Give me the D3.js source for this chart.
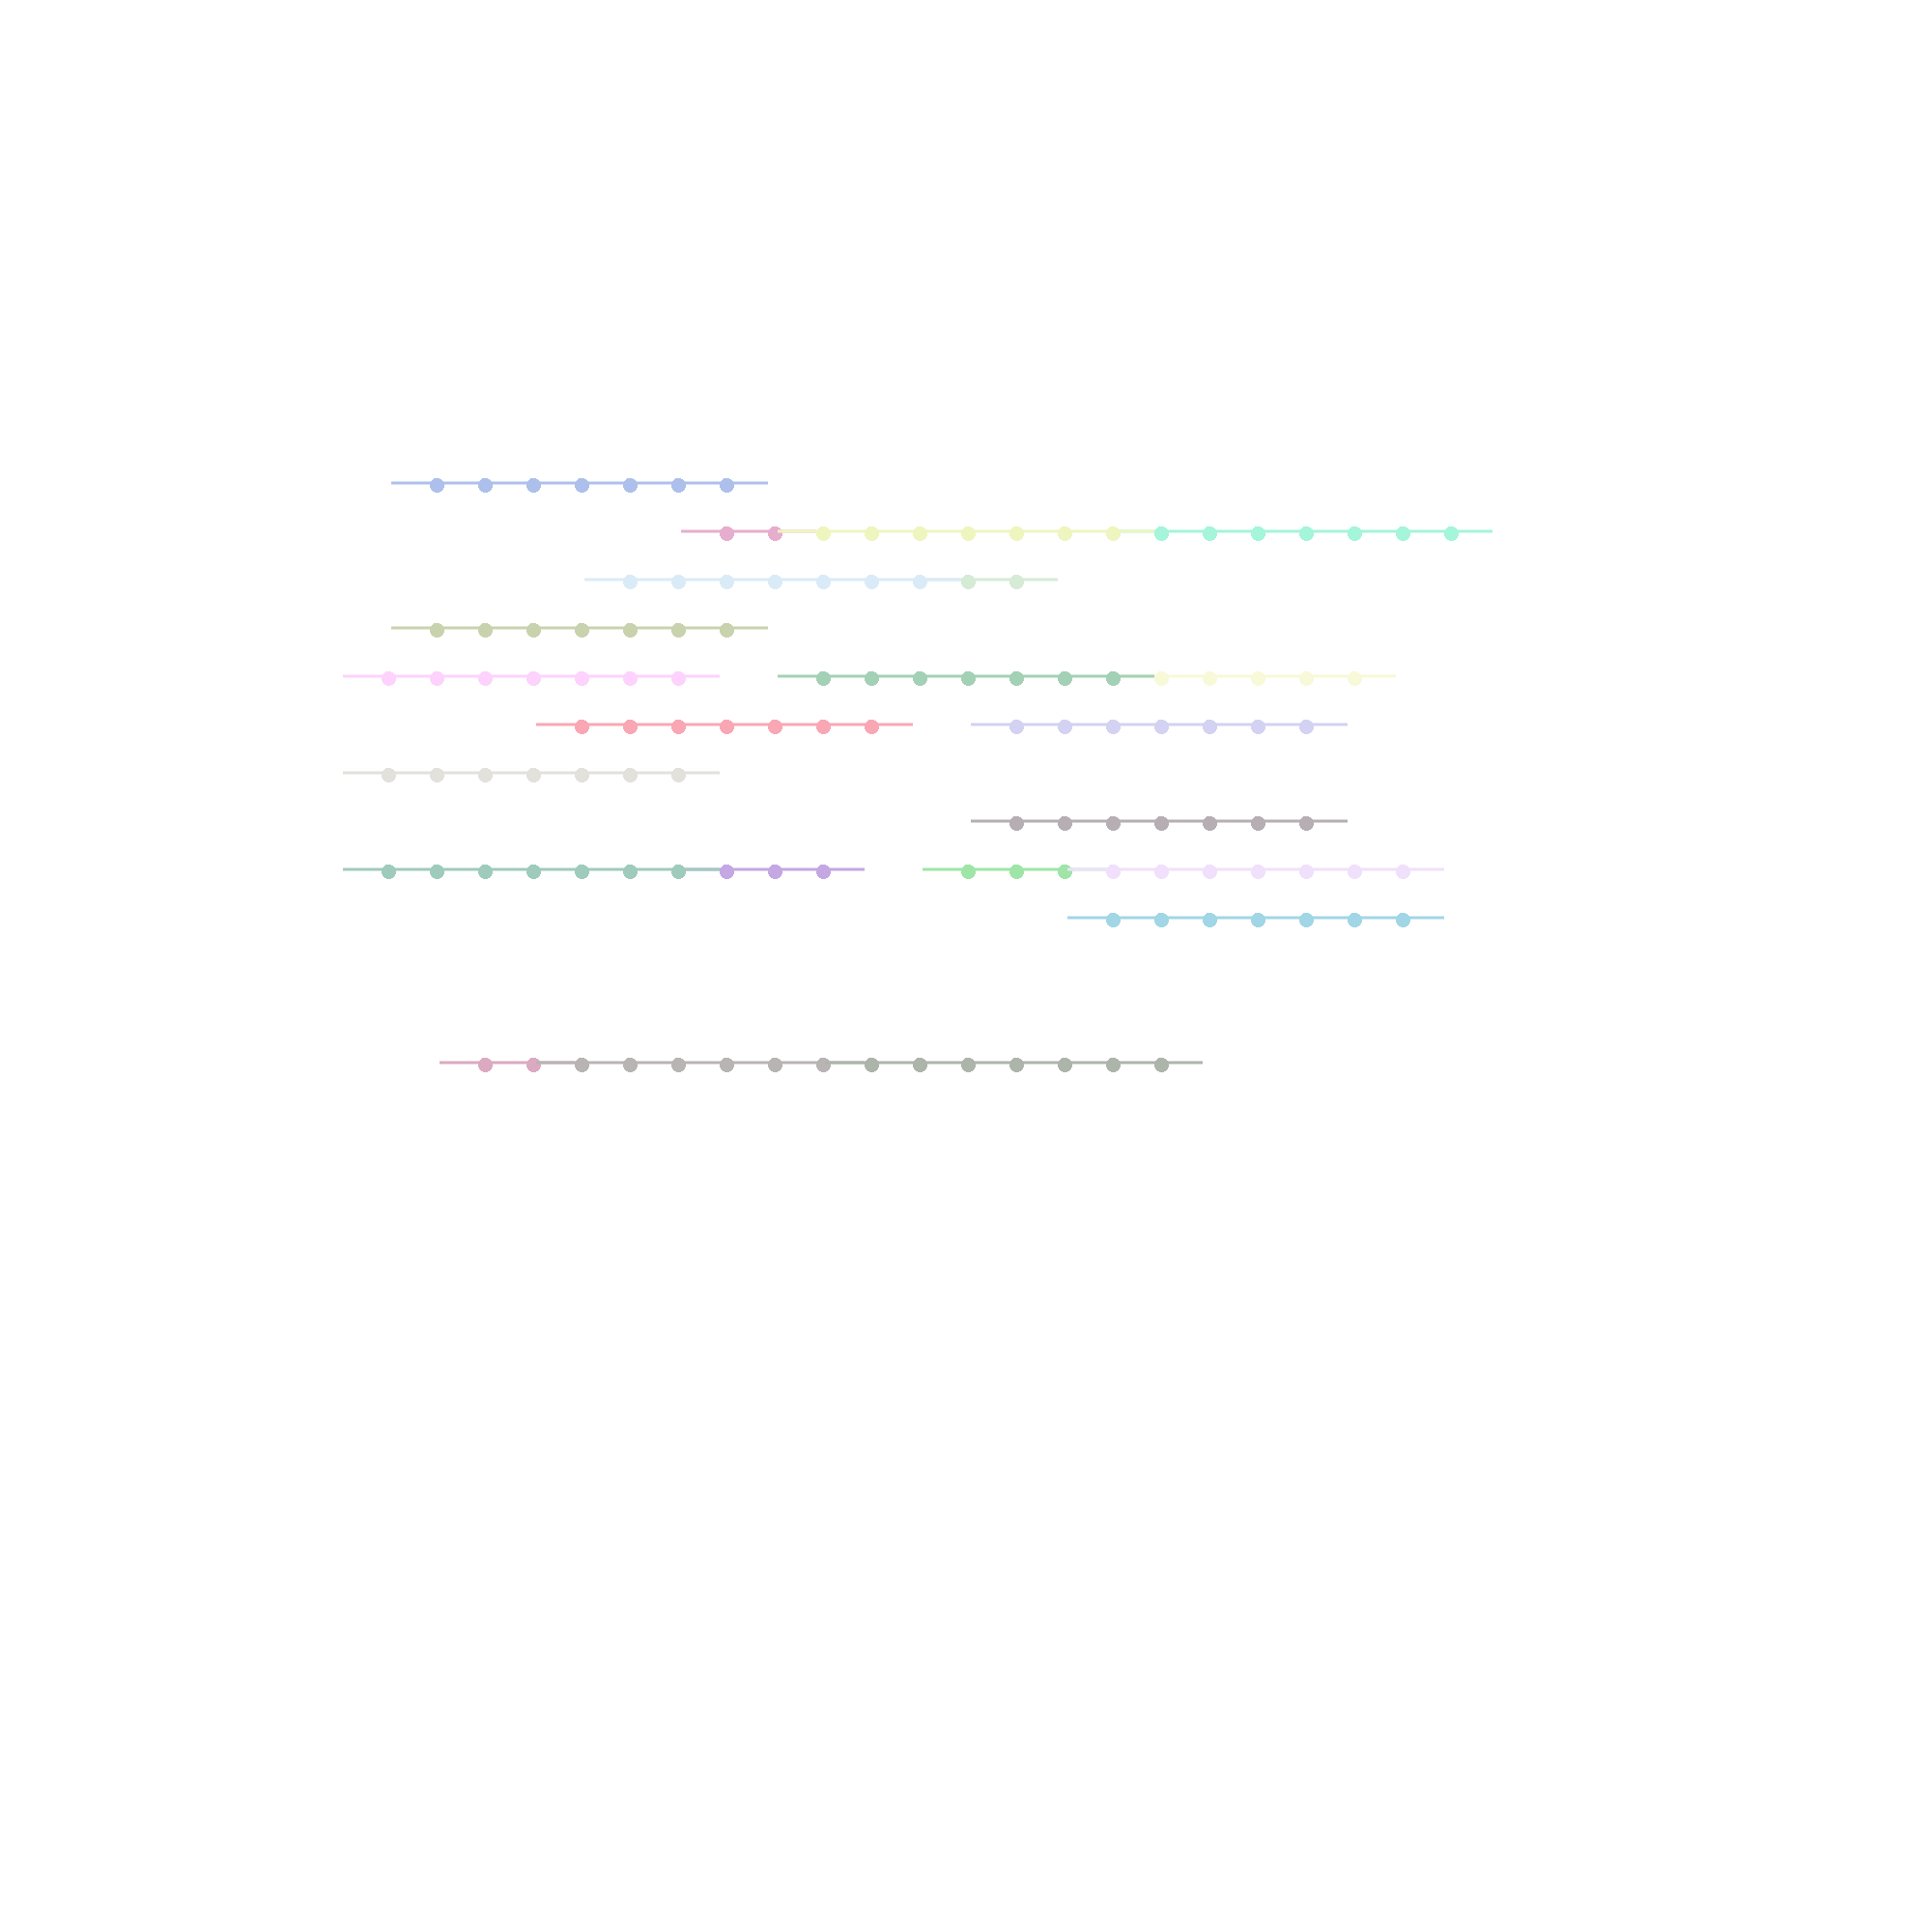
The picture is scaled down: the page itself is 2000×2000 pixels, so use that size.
<!DOCTYPE html>
<html>
<head>
<meta charset="utf-8">
<script src="https://cdn.jsdelivr.net/npm/d3@7"></script>
<style>
  html, body { margin: 0; padding: 0; background: #ffffff; }
  svg { display: block; }
</style>
</head>
<body>
<script>
// Segments listed in drawing order (later ones paint over earlier ones)
const segRows = [0, 1, 1, 1, 2, 2, 3, 4, 4, 4, 5, 5, 6, 7, 8, 8, 8, 8, 9, 12, 12, 12];
const segColors = [
  "#adc0ec",
  "#e6adcf", "#a4f5d9", "#eff5bf",
  "#d5ebd5", "#daebf8",
  "#c8d3ae",
  "#fdd3fd", "#f8f9d8", "#a3d1b5",
  "#f9a7b4", "#d3d2f3",
  "#e3e1dc",
  "#b6aeb3",
  "#c3a8e3", "#9fe5a8", "#9fcbbd", "#f1e0fb",
  "#a1d6e6",
  "#dbaac1", "#b8b4b3", "#adb5ab"
];
const segPoints = [
  [1, 2, 3, 4, 5, 6, 7],
  [7, 8],
  [16, 17, 18, 19, 20, 21, 22],
  [9, 10, 11, 12, 13, 14, 15],
  [12, 13],
  [5, 6, 7, 8, 9, 10, 11],
  [1, 2, 3, 4, 5, 6, 7],
  [0, 1, 2, 3, 4, 5, 6],
  [16, 17, 18, 19, 20],
  [9, 10, 11, 12, 13, 14, 15],
  [4, 5, 6, 7, 8, 9, 10],
  [13, 14, 15, 16, 17, 18, 19],
  [0, 1, 2, 3, 4, 5, 6],
  [13, 14, 15, 16, 17, 18, 19],
  [7, 8, 9],
  [12, 13, 14],
  [0, 1, 2, 3, 4, 5, 6],
  [15, 16, 17, 18, 19, 20, 21],
  [15, 16, 17, 18, 19, 20, 21],
  [2, 3],
  [4, 5, 6, 7, 8, 9],
  [10, 11, 12, 13, 14, 15, 16]
];
const lineOverhang = 0.9;

const W = 2000, H = 2000;
const x = d3.scaleLinear().domain([-8, 32]).range([0, W]);
const y = d3.scaleLinear().domain([-10, 30]).range([0, H]);

const svg = d3.select("body").append("svg")
  .attr("width", W).attr("height", H)
  .attr("viewBox", `0 0 ${W} ${H}`);
svg.append("rect").attr("width", W).attr("height", H).attr("fill", "#ffffff");

const segs = segRows.map((r, i) => ({ row: r, color: segColors[i], pts: segPoints[i] }));

const g = svg.selectAll("g.seg").data(segs).join("g").attr("class", "seg");

g.append("line")
  .attr("x1", d => x(d3.min(d.pts) - lineOverhang))
  .attr("x2", d => x(d3.max(d.pts) + lineOverhang))
  .attr("y1", d => y(d.row))
  .attr("y2", d => y(d.row))
  .attr("stroke", d => d.color)
  .attr("stroke-width", 2.8);

g.selectAll("circle")
  .data(d => d.pts.map(t => ({ t, row: d.row, color: d.color })))
  .join("circle")
  .attr("cx", d => x(d.t) + 2.5)
  .attr("cy", d => y(d.row) + 2.5)
  .attr("r", 7.6)
  .attr("shape-rendering", "crispEdges")
  .attr("fill", d => d.color);
</script>
</body>
</html>
